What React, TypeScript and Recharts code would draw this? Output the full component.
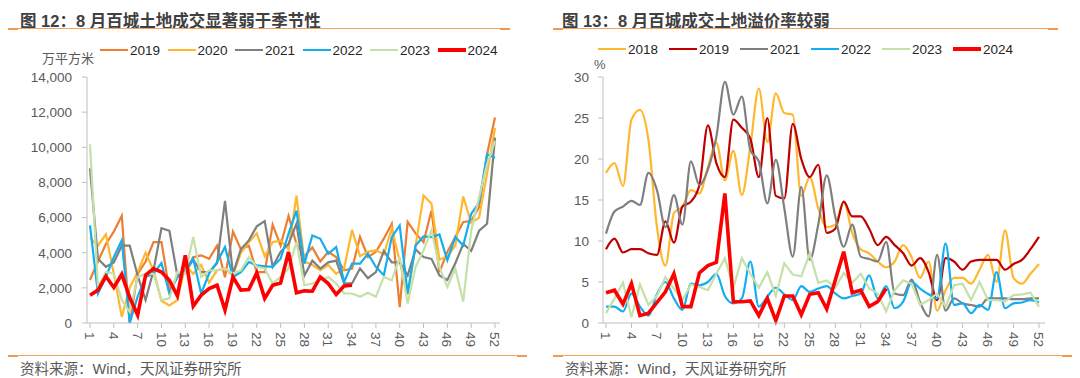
import React from "react";
import { LineChart, Line, XAxis, YAxis } from "recharts";

const FONT = '"Liberation Sans", Arial, "Noto Sans CJK SC", sans-serif';

// weeks 1..52
const weeks = [
  1, 2, 3, 4, 5, 6, 7, 8, 9, 10, 11, 12, 13, 14, 15, 16, 17, 18, 19, 20, 21, 22, 23, 24, 25, 26,
  27, 28, 29, 30, 31, 32, 33, 34, 35, 36, 37, 38, 39, 40, 41, 42, 43, 44, 45, 46, 47, 48, 49, 50, 51, 52,
];

// 图12: 百城土地成交面积 (万平方米)
const area2019 = [
  2450, 3500, 4500, 5200, 6100, 0, 2800, 3500, 4600, 4600, 1870, 2600, 2900, 3750, 3850, 3650, 4400,
  2600, 5200, 4200, 4400, 2900, 2900, 5600, 4400, 6100, 4500, 3800, 4300, 3500, 4050, 3750, 3000, 3100,
  4900, 3750, 4050, 4800, 5650, 900, 5750, 5100, 4600, 6400, 2900, 4050, 4900, 5750, 5800, 6600, 9600, 11700,
];
const area2020 = [
  4850, 4400, 5050, 2800, 350, 2000, 2900, 4000, 3000, 1250, 1000, 1300, 3300, 2800, 3300, 2300, 3000,
  3100, 2700, 4000, 4600, 5100, 3800, 4600, 4700, 4200, 7250, 3500, 3300, 3000, 3300, 2800, 3100, 5300,
  3800, 4050, 4150, 3900, 5400, 3500, 1600, 4400, 7250, 6800, 3600, 3800, 4400, 7200, 5700, 6000, 8500, 11100,
];
const area2021 = [
  8800, 3650, 3200, 3450, 4400, 4400, 2700, 1300, 3000, 5400, 5250, 2700, 2900, 3600, 2900, 2900, 3400,
  6950, 2800, 4200, 4700, 5500, 5800, 3200, 4050, 4500, 5650, 2700, 3550, 3100, 3450, 3550, 2250, 2250,
  3100, 2550, 2900, 4100, 3450, 3450, 2700, 4200, 3750, 3650, 2700, 2450, 3400, 4500, 4100, 5250, 5650, 10550,
];
const area2022 = [
  5550, 1680, 2620, 3750, 4700, 0, 1500, 2620, 2810, 3420, 1680, 2620, 3000, 3660, 1680, 2810, 3470,
  4320, 2620, 2900, 3470, 3280, 3230, 3190, 3660, 5075, 6400, 3380, 4980, 4790, 3940, 4320, 2340, 3380,
  3380, 3940, 3190, 2720, 4890, 5550, 1680, 4415, 4925, 4890, 5040, 3570, 4890, 4415, 6210, 6870, 9600, 9400,
];
const area2023 = [
  10170, 2060, 2900, 2810, 1300, 640, 2620, 2810, 2800, 1300, 1400, 2900, 2810, 4890, 2620, 3000, 3000,
  3100, 2810, 3000, 3750, 3200, 3100, 2250, 2620, 3100, 4600, 2150, 2250, 2430, 2620, 2250, 1680, 1680,
  1490, 1720, 1490, 2620, 2430, 3750, 1110, 3190, 4130, 5265, 3190, 2060, 3100, 1210, 5265, 7150, 9040, 10360,
];
const area2024 = [
  1585, 1870, 2660, 2020, 2770, 1450, 450, 2720, 3095, 2900, 2430, 1550, 3850, 960, 1585, 1960, 2150,
  735, 2620, 1870, 1900, 2850, 1400, 2150, 2280, 4040, 1720, 1830, 1810, 2620, 2245, 1620, 2110, 2150,
];

// 图13: 百城成交土地溢价率 (%)
const prem2018 = [
  18.3, 19.5, 16.7, 24.8, 26, 22.3, 11.7, 7.0, 13.4, 14.2, 16.2, 15.8, 19, 22, 17.4, 21, 15.6, 21.5,
  28.6, 22.1, 28, 25.6, 25.4, 15.5, 17.8, 14, 11.7, 12, 14.8, 11, 9, 8.5, 7.5, 6.8, 7.5, 9.5, 8, 5.5,
  7.5, 1.5, 4, 5.5, 5.5, 4.8, 6.5, 8.3, 5, 11.3, 5.5, 4.8, 6, 7.2,
];
const prem2019 = [
  9.0, 10.3, 8.6, 9.0, 9.0, 8.5, 8.3, 12.4, 9.8, 14.2, 14.8, 16.8, 24.1, 19.5, 17.8, 24.8, 23.8, 22.5,
  17.8, 25, 15.5, 15.2, 24.3, 20, 17.8, 19.3, 11, 11.5, 14.8, 13, 13, 11.5, 9.5, 10.5, 9.5, 8.5, 7, 7.9,
  6.2, 2.8, 7.9, 7.5, 6.5, 7.5, 7.7, 7.7, 7.7, 6.5, 7.2, 7.7, 9, 10.5,
];
const prem2021 = [
  10.9, 13.6, 14.2, 14.9, 14.4, 18.3, 16.2, 11.7, 15.6, 12, 19.7, 16.8, 18.7, 22.7, 29.4, 25.4, 27.6,
  21.1, 19.7, 14.6, 19.9, 14, 8.1, 16.6, 7.7, 12, 18, 13, 9.3, 12, 8.1, 7.8, 7.5, 9.9, 3.6, 3.4, 5.3,
  2.5, 0.8, 8.3, 1.5, 3.0, 2.4, 2.2, 2.0, 3.0, 3.0, 3.0, 2.9, 2.9, 3.0, 3.0,
];
const prem2022 = [
  2.0, 2.0, 1.4, 3.6, 2.0, 0.9, 3.5, 5.0, 3.0, 1.6, 4.8, 4.6, 5.0, 6.0, 3.3, 2.4, 3.0, 7.5, 2.0, 3.2,
  4.3, 3.5, 2.8, 4.5, 3.8, 4.2, 4.5, 3.6, 3.0, 3.3, 3.6, 5.8, 3.0, 4.5, 1.8, 2.6, 5.0, 4.2, 3.5, 3.0,
  9.7, 2.2, 2.4, 1.2, 2.2, 1.6, 6.2, 1.8, 2.4, 2.5, 2.8, 2.5,
];
const prem2023 = [
  1.2, 3.0, 4.9, 0.7, 4.7, 2.2, 3.3, 5.6, 4.2, 2.8, 4.7, 4.4, 4.0, 6.0, 7.9, 4.3, 7.9, 6.0, 4.3, 6.2,
  3.3, 7.3, 5.9, 5.7, 8.5, 4.9, 5.2, 4.3, 6.1, 4.9, 6.0, 4.2, 3.6, 1.4, 4.0, 5.2, 4.8, 2.2, 2.8, 3.6,
  2.0, 4.6, 4.8, 2.8, 5.0, 2.8, 2.8, 2.6, 3.4, 3.5, 3.7, 2.0,
];
const prem2024 = [
  3.7, 4.0, 2.3, 4.8, 0.9, 1.2, 2.5, 3.8, 6.0, 2.0, 2.0, 6.1, 7.0, 7.4, 15.8, 2.6, 2.6, 2.7, 0.9, 3.0,
  0.3, 3.3, 3.3, 1.0, 3.5, 3.7, 1.7, 5.2, 8.7, 3.7, 4.0, 2.0, 2.6, 4.2,
];

const areaTicks = [0, 2000, 4000, 6000, 8000, 10000, 12000, 14000];
const premTicks = [0, 5, 10, 15, 20, 25, 30];

const leftData = weeks.map((w, i) => ({
  week: w,
  y2019: area2019[i],
  y2020: area2020[i],
  y2021: area2021[i],
  y2022: area2022[i],
  y2023: area2023[i],
  y2024: area2024[i],
}));

const rightData = weeks.map((w, i) => ({
  week: w,
  y2018: prem2018[i],
  y2019: prem2019[i],
  y2021: prem2021[i],
  y2022: prem2022[i],
  y2023: prem2023[i],
  y2024: prem2024[i],
}));

const leftSeries = [
  { key: "y2019", name: "2019", color: "#ED7D31", width: 2.2 },
  { key: "y2020", name: "2020", color: "#FFB82E", width: 2.2 },
  { key: "y2021", name: "2021", color: "#7F7F7F", width: 2.2 },
  { key: "y2022", name: "2022", color: "#12AEEF", width: 2.2 },
  { key: "y2023", name: "2023", color: "#C5E0A8", width: 2.2 },
  { key: "y2024", name: "2024", color: "#FF0000", width: 3.6 },
];

const rightSeries = [
  { key: "y2018", name: "2018", color: "#FFB82E", width: 2.2, smooth: true },
  { key: "y2019", name: "2019", color: "#C00000", width: 2.2, smooth: true },
  { key: "y2021", name: "2021", color: "#7F7F7F", width: 2.2, smooth: true },
  { key: "y2022", name: "2022", color: "#12AEEF", width: 2.2, smooth: true },
  { key: "y2023", name: "2023", color: "#C5E0A8", width: 2.2, smooth: false },
  { key: "y2024", name: "2024", color: "#FF0000", width: 3.6, smooth: false },
];

const AXIS = "#BFBFBF";
const TXT = "#595959";

const WeekTick = (props: any) => {
  const { x, y, payload } = props;
  return (
    <g transform={`translate(${x},${y})`}>
      <text transform="rotate(90)" textAnchor="start" dy="0.36em" fill={TXT} fontSize={13.5} fontFamily={FONT}>
        {payload.value}
      </text>
    </g>
  );
};

const LegendRow = ({ items, left, top, step }: any) => (
  <>
    {items.map((s: any, i: number) => (
      <div
        key={s.key}
        style={{ position: "absolute", left: left + i * step, top, height: 16, display: "flex", alignItems: "center" }}
      >
        <div style={{ width: 28, height: s.width > 3 ? 4 : 2.5, background: s.color, marginRight: 2 }} />
        <span style={{ fontSize: 13.5, color: "#262626", fontFamily: FONT }}>{s.name}</span>
      </div>
    ))}
  </>
);

const Rule = ({ left, width, top }: any) => (
  <>
    <div style={{ position: "absolute", left, top, width, height: 1, background: "#F7A35C" }} />
    <div style={{ position: "absolute", left, top: top - 0.5, width: 10, height: 2, background: "#F39A4E" }} />
    <div style={{ position: "absolute", left: left + width - 10, top: top - 0.5, width: 10, height: 2, background: "#F39A4E" }} />
  </>
);

const text = (style: React.CSSProperties) => ({
  position: "absolute" as const,
  fontFamily: FONT,
  whiteSpace: "nowrap" as const,
  ...style,
});

export default function App() {
  return (
    <div style={{ position: "absolute", left: 0, top: 0, width: 1080, height: 378, background: "#fff", overflow: "hidden" }}>
      <div style={text({ left: 20, top: 8, fontSize: 16.5, fontWeight: "bold", color: "#404040" })}>
        图 12：8 月百城土地成交显著弱于季节性
      </div>
      <div style={text({ left: 562, top: 8, fontSize: 16.5, fontWeight: "bold", color: "#404040" })}>
        图 13：8 月百城成交土地溢价率较弱
      </div>
      <Rule left={8} width={502} top={28} />
      <Rule left={553} width={505} top={28} />

      <LegendRow items={leftSeries} left={100} top={42} step={67.5} />
      <LegendRow items={rightSeries} left={598} top={41} step={71} />

      <div style={text({ left: 42, top: 51, fontSize: 13, lineHeight: "16px", color: TXT })}>万平方米</div>
      <div style={text({ left: 594, top: 57, fontSize: 13, lineHeight: "16px", color: TXT })}>%</div>

      <div style={{ position: "absolute", left: 0, top: 0 }}>
        <LineChart width={540} height={378} data={leftData} margin={{ top: 77, right: 40, bottom: 25, left: 27 }}>
          <XAxis
            dataKey="week"
            interval={2}
            height={30}
            tick={<WeekTick />}
            tickSize={5}
            tickMargin={4}
            padding={{ left: 3, right: 5 }}
            axisLine={{ stroke: AXIS }}
            tickLine={{ stroke: AXIS }}
          />
          <YAxis
            width={60}
            domain={[0, 14000]}
            ticks={areaTicks}
            tickFormatter={(v: number) => v.toLocaleString("en-US")}
            tickSize={5}
            tickMargin={10}
            tick={{ fill: TXT, fontSize: 13.5, fontFamily: FONT }}
            axisLine={{ stroke: AXIS }}
            tickLine={{ stroke: AXIS }}
          />
          {leftSeries.map((s) => (
            <Line
              key={s.key}
              dataKey={s.key}
              type="linear"
              stroke={s.color}
              strokeWidth={s.width}
              dot={false}
              activeDot={false}
              isAnimationActive={false}
            />
          ))}
        </LineChart>
      </div>

      <div style={{ position: "absolute", left: 540, top: 0 }}>
        <LineChart width={540} height={378} data={rightData} margin={{ top: 77, right: 35, bottom: 25, left: 23 }}>
          <XAxis
            dataKey="week"
            interval={2}
            height={30}
            tick={<WeekTick />}
            tickSize={5}
            tickMargin={4}
            padding={{ left: 3, right: 6 }}
            axisLine={{ stroke: AXIS }}
            tickLine={{ stroke: AXIS }}
          />
          <YAxis
            width={40}
            domain={[0, 30]}
            ticks={premTicks}
            tickSize={5}
            tickMargin={9}
            tick={{ fill: TXT, fontSize: 13.5, fontFamily: FONT }}
            axisLine={{ stroke: AXIS }}
            tickLine={{ stroke: AXIS }}
          />
          {rightSeries.map((s) => (
            <Line
              key={s.key}
              dataKey={s.key}
              type={s.smooth ? "monotone" : "linear"}
              stroke={s.color}
              strokeWidth={s.width}
              dot={false}
              activeDot={false}
              isAnimationActive={false}
            />
          ))}
        </LineChart>
      </div>

      <Rule left={8} width={519} top={355} />
      <Rule left={553} width={519} top={355} />
      <div style={text({ left: 20, top: 357, fontSize: 14.5, color: TXT })}>资料来源：Wind，天风证券研究所</div>
      <div style={text({ left: 565, top: 357, fontSize: 14.5, color: TXT })}>资料来源：Wind，天风证券研究所</div>
    </div>
  );
}
